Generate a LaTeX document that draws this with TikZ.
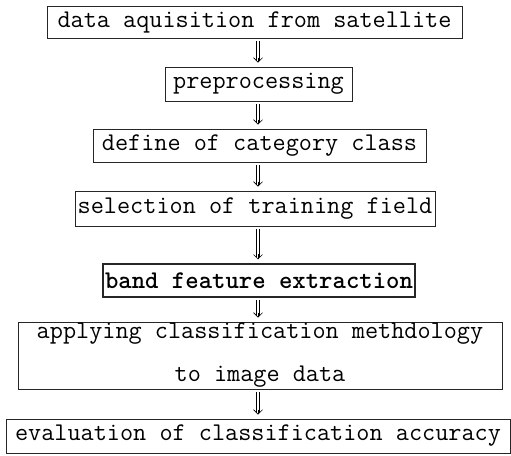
\documentclass[tikz,border=0pt]{standalone}
\usetikzlibrary{arrows.meta,calc}
\begin{document}
\begin{tikzpicture}[x=1pt,y=1pt,
  stage/.style={draw=black!85, line width=0.8pt, inner sep=0pt,
    font=\fontsize{25.5}{43}\selectfont\ttfamily, align=center},
  shaft/.style={draw=black, line width=0.6pt, double=white, double distance=2.6pt,
    shorten <=2.5pt, shorten >=6pt},
  head/.style={draw=black, line width=0.6pt, -{Straight Barb[length=4.5pt,width=9pt]}}]
\useasboundingbox (0,0) rectangle (511,455);
% processing stages, top to bottom
\node[stage, minimum width=415, minimum height=32] (acq)   at (254.5,433)   {data aquisition from satellite};
\node[stage, minimum width=187, minimum height=34] (pre)   at (258.5,371)   {preprocessing};
\node[stage, minimum width=333, minimum height=33] (cat)   at (259.5,309.5) {define of category class};
\node[stage, minimum width=360, minimum height=35] (train) at (255,246.5)   {selection of training field};
\node[stage, minimum width=312, minimum height=33, line width=1.1pt,
      font=\fontsize{25.5}{43}\selectfont\ttfamily\bfseries] (band) at (259,174.5) {band feature extraction};
\node[stage, minimum width=484, minimum height=67] (apply) at (260,99.5)    {applying classification methdology\\to image data};
\node[stage, minimum width=504, minimum height=34] (eval)  at (258,19)      {evaluation of classification accuracy};
% common axis of the double-shafted flow arrows
\coordinate (ax) at (258,0);
\foreach \a/\b in {acq/pre, pre/cat, cat/train, train/band, band/apply, apply/eval} {
  \draw[shaft] (\a.south -| ax) -- (\b.north -| ax);
  \draw[head] ($(\b.north -| ax)+(0,9)$) -- ($(\b.north -| ax)+(0,4)$);
}
\end{tikzpicture}
\end{document}
